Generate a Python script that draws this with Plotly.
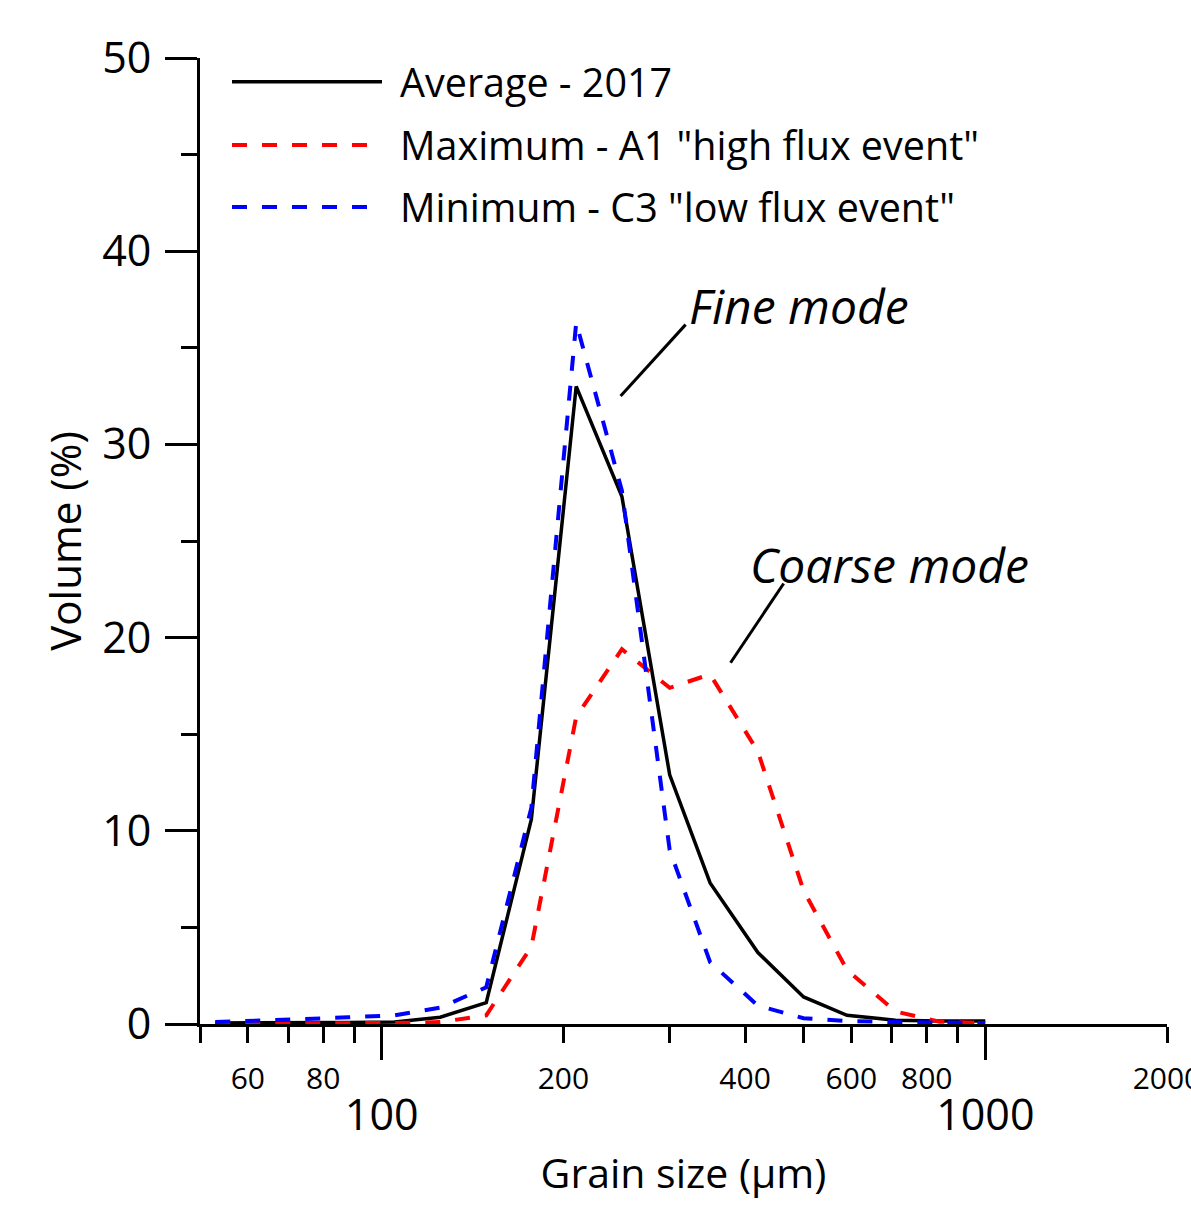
import math
import plotly.graph_objects as go

# Grain-size classes (µm) and volume fractions (%) per class
grain_size = [53, 62, 74, 88, 105, 125, 149, 177, 210, 250, 300, 350, 420, 500, 590, 710, 840, 1000]
average_2017 = [0.05, 0.05, 0.07, 0.08, 0.1, 0.35, 1.1, 10.6, 33.0, 27.3, 12.9, 7.3, 3.7, 1.4, 0.45, 0.2, 0.15, 0.15]
maximum_a1 = [0.02, 0.02, 0.02, 0.02, 0.05, 0.1, 0.45, 4.0, 15.9, 19.4, 17.4, 18.1, 14.1, 6.9, 2.8, 0.65, 0.12, 0.05]
minimum_c3 = [0.1, 0.15, 0.25, 0.35, 0.45, 0.85, 1.9, 11.2, 36.3, 27.6, 9.0, 3.2, 0.95, 0.3, 0.15, 0.1, 0.05, 0.05]

series_names = ["Average - 2017", 'Maximum - A1 "high flux event"', 'Minimum - C3 "low flux event"']
series_colors = ["#000000", "#ff0000", "#0000ff"]

# Axis ticks
x_major = [100, 1000]
x_minor = [50, 60, 70, 80, 90, 200, 300, 400, 500, 600, 700, 800, 900, 2000]
x_small_labels = [60, 80, 200, 400, 600, 800, 2000]
y_major = [0, 10, 20, 30, 40, 50]
y_minor = [5, 15, 25, 35, 45]

# Mode labels with their leader lines (grain size, volume)
fine_label = ("Fine mode", 320, 37.2)
fine_leader_x = [248.8, 318.8]
fine_leader_y = [32.5, 36.2]
coarse_label = ("Coarse mode", 405, 23.8)
coarse_leader_x = [378.4, 463.4]
coarse_leader_y = [18.7, 22.8]

FONT = "Open Sans"

fig = go.Figure()

fig.add_trace(go.Scatter(x=grain_size, y=average_2017, mode="lines", name=series_names[0],
                         line=dict(color=series_colors[0], width=3.5), showlegend=False))
fig.add_trace(go.Scatter(x=grain_size, y=maximum_a1, mode="lines", name=series_names[1],
                         line=dict(color=series_colors[1], width=4, dash="15px,15px"), showlegend=False))
fig.add_trace(go.Scatter(x=grain_size, y=minimum_c3, mode="lines", name=series_names[2],
                         line=dict(color=series_colors[2], width=4, dash="15px,15px"), showlegend=False))

# leader lines for the mode labels
for lx, ly in [(fine_leader_x, fine_leader_y), (coarse_leader_x, coarse_leader_y)]:
    fig.add_trace(go.Scatter(x=lx, y=ly, mode="lines", line=dict(color="black", width=3),
                             hoverinfo="skip", showlegend=False))

# Small tick labels on an overlaid x axis
fig.add_trace(go.Scatter(x=[50, 2000], y=[0, 0], xaxis="x2", mode="lines",
                         line=dict(width=0), hoverinfo="skip", showlegend=False))

for text, gx, vy in [fine_label, coarse_label]:
    fig.add_annotation(x=math.log10(gx), y=vy, xref="x", yref="y", text=f"<i>{text}</i>",
                       showarrow=False, xanchor="left", yanchor="middle",
                       font=dict(family=FONT, size=48, color="black"))

# Legend drawn as line samples plus labels
legend_y = [0.9755, 0.9099, 0.8458]
legend_dash = ["solid", "15px,15px", "15px,15px"]
legend_w = [3.5, 4, 4]
for name, color, ly, dash, w in zip(series_names, series_colors, legend_y, legend_dash, legend_w):
    fig.add_shape(type="line", xref="paper", yref="paper", x0=0.0331, x1=0.1882, y0=ly, y1=ly,
                  line=dict(color=color, width=w, dash=dash))
    fig.add_annotation(xref="paper", yref="paper", x=0.2048, y=ly, text=name, showarrow=False,
                       xanchor="left", yanchor="middle",
                       font=dict(family=FONT, size=39.5, color="black"))

xr = [math.log10(50), math.log10(2000)]

fig.update_layout(
    width=1191, height=1206,
    margin=dict(l=200, r=24, t=58, b=182, autoexpand=False),
    plot_bgcolor="white", paper_bgcolor="white",
    font=dict(family=FONT, color="black"),
    xaxis=dict(
        type="log", range=xr, tickmode="array", tickvals=x_major, ticktext=[str(v) for v in x_major],
        ticks="outside", ticklen=33, tickwidth=3, tickcolor="black",
        tickfont=dict(family=FONT, size=43), ticklabelstandoff=18, automargin=False,
        minor=dict(tickmode="array", tickvals=x_minor, ticks="outside", ticklen=16, tickwidth=3,
                   tickcolor="black", showgrid=False),
        showline=True, linewidth=3, linecolor="black", showgrid=False, zeroline=False,
        title=dict(text="Grain size (µm)", font=dict(family=FONT, size=41), standoff=18),
    ),
    xaxis2=dict(
        type="log", range=[xr[0], xr[1] + 1e-4], overlaying="x", side="bottom", anchor="y",
        tickmode="array", tickvals=x_small_labels, ticktext=[str(v) for v in x_small_labels],
        ticks="", tickfont=dict(family=FONT, size=30), ticklabelstandoff=34, automargin=False,
        ticklabeloverflow="allow",
        showline=False, showgrid=False, zeroline=False,
    ),
    yaxis=dict(
        range=[0, 50], tickmode="array", tickvals=y_major, ticks="outside", ticklen=32,
        tickwidth=3, tickcolor="black", tickfont=dict(family=FONT, size=43), ticklabelstandoff=5,
        automargin=False,
        minor=dict(tickmode="array", tickvals=y_minor, ticks="outside", ticklen=16, tickwidth=3,
                   tickcolor="black", showgrid=False),
        showline=True, linewidth=3, linecolor="black", showgrid=False, zeroline=False,
        title=dict(text="Volume (%)", font=dict(family=FONT, size=42), standoff=8),
    ),
)

fig.write_html("out.html")
